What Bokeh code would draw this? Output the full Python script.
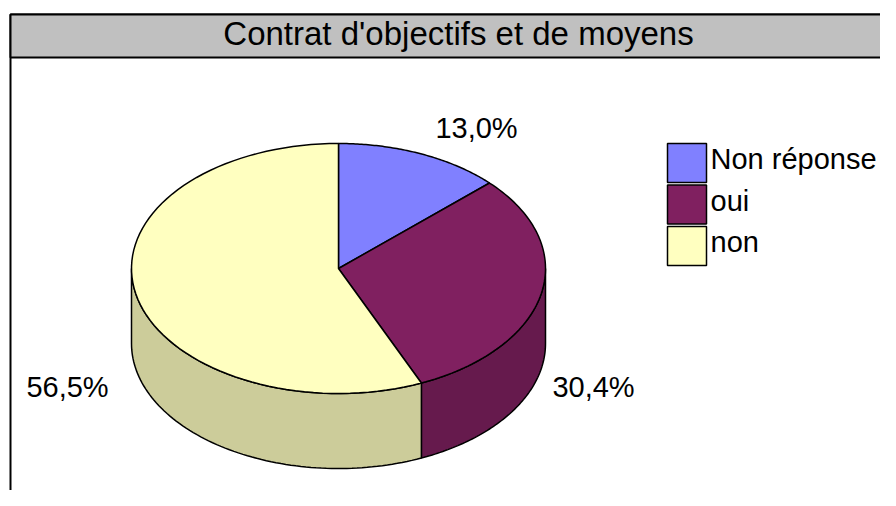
import math
from bokeh.plotting import figure
from bokeh.models import Range1d
from bokeh.core.properties import value
from bokeh.embed import file_html
from bokeh.resources import INLINE

# ---- data ----
title = "Contrat d'objectifs et de moyens"
categories = ["Non réponse", "oui", "non"]
values = [13.0, 30.4, 56.5]
labels = ["13,0%", "30,4%", "56,5%"]
top_colors = ["#8080FF", "#802060", "#FFFFC0"]
side_colors = ["#6666CC", "#661A4D", "#CCCC9A"]

FONT = "Liberation Sans"


def shift(size):
    # compensation for svg baseline placement
    return 0.38 * size


p = figure(width=880, height=490, output_backend="svg", toolbar_location=None,
           x_range=Range1d(0, 880), y_range=Range1d(490, 0),
           min_border=0, outline_line_color=None)
p.axis.visible = False
p.grid.visible = False
p.background_fill_color = "white"
p.border_fill_color = "white"

# frame + title bar
p.quad(left=[10], right=[1000], top=[14], bottom=[700], fill_color=None,
       line_color="black", line_width=2)
p.quad(left=[10], right=[1000], top=[14], bottom=[57], fill_color="#C0C0C0",
       line_color="black", line_width=2)
p.text(x=[458], y=[46 - shift(33)], text=[title], text_font=value(FONT),
       text_font_size="33px", text_align="center", text_baseline="alphabetic",
       text_color="black")

# pie geometry
cx, cy, rx, ry, depth = 338, 268, 207, 125, 75
total = sum(values)
starts, ends = [], []
acc = 0.0
for v in values:
    starts.append(acc / total * 360)
    acc += v
    ends.append(acc / total * 360)


def arc(a0, a1, yc, n=80):
    xs, ys = [], []
    for i in range(n + 1):
        a = math.radians(a0 + (a1 - a0) * i / n)
        xs.append(cx + rx * math.sin(a))
        ys.append(yc - ry * math.cos(a))
    return xs, ys


# sides
sx, sy, sc = [], [], []
for a0, a1, col in zip(starts, ends, side_colors):
    s, e = max(a0, 90), min(a1, 270)
    if e > s:
        tx, ty = arc(s, e, cy)
        bx, by = arc(e, s, cy + depth)
        sx.append(tx + bx)
        sy.append(ty + by)
        sc.append(col)
p.patches(sx, sy, fill_color=sc, line_color="black", line_width=1.5)

# tops
tx_all, ty_all = [], []
for a0, a1 in zip(starts, ends):
    ax, ay = arc(a0, a1, cy)
    tx_all.append([cx] + ax)
    ty_all.append([cy] + ay)
p.patches(tx_all, ty_all, fill_color=top_colors, line_color="black", line_width=1.5)

# data labels (layout positions)
LBL = 29
label_pos = [(476, 139), (593, 398), (67, 398)]
p.text(x=[q[0] for q in label_pos], y=[q[1] - shift(LBL) for q in label_pos], text=labels,
       text_font=value(FONT), text_font_size=f"{LBL}px", text_align="center",
       text_baseline="alphabetic", text_color="black")

# legend
LEG = 29
lx0, ly0, box, pitch = 667, 143, 39, 41.5
p.quad(left=[lx0] * 3, right=[lx0 + box] * 3,
       top=[ly0 + i * pitch for i in range(3)],
       bottom=[ly0 + i * pitch + box for i in range(3)],
       fill_color=top_colors, line_color="black", line_width=1.5)
p.text(x=[710] * 3, y=[ly0 + i * pitch + 27 - shift(LEG) for i in range(3)], text=categories,
       text_font=value(FONT), text_font_size=f"{LEG}px", text_align="left",
       text_baseline="alphabetic", text_color="black")

open("out.html", "w").write(file_html(p, INLINE))
